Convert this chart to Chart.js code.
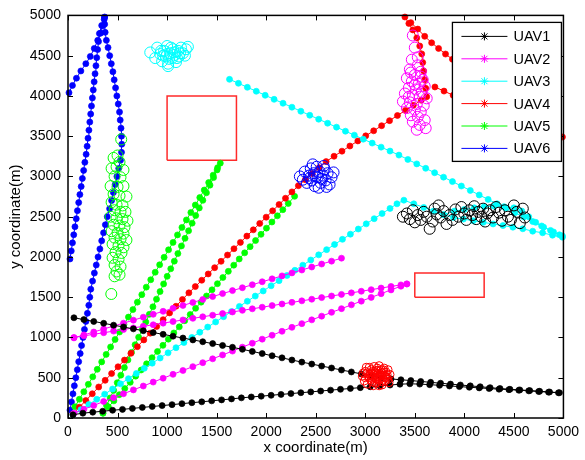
<!DOCTYPE html>
<html>
<head>
<meta charset="utf-8">
<script src="https://cdn.jsdelivr.net/npm/chart.js@4.4.0/dist/chart.umd.min.js"></script>
<style>
  html, body { margin: 0; padding: 0; background: #fff; }
</style>
</head>
<body>
<canvas id="myChart" width="585" height="460"></canvas>
<script>
// legend
var uavNames = ['UAV1', 'UAV2', 'UAV3', 'UAV4', 'UAV5', 'UAV6']
var uavColors = ['#000000', '#ff00ff', '#00ffff', '#ff0000', '#00ff00', '#0000ff']
var tickValues = [0, 500, 1000, 1500, 2000, 2500, 3000, 3500, 4000, 4500, 5000]

// UAV1 (black) paths
var k1 = [[60,1245],[160,1222],[260,1199],[360,1176],[460,1153],[560,1130],[660,1107],[760,1084],[860,1061],[960,1039],[1060,1016],[1160,993],[1260,970],[1360,947],[1460,924],[1560,901],[1660,878],[1760,853],[1860,827],[1960,800],[2060,773],[2160,747],[2260,720],[2360,694],[2460,670],[2560,645],[2660,621],[2760,596],[2860,572],[2960,548],[3060,523],[3160,498],[3260,485],[3360,475],[3460,465],[3560,454],[3660,443],[3760,432],[3860,421],[3960,410],[4060,399],[4160,388],[4260,377],[4360,366],[4460,357],[4560,349],[4660,340],[4760,332],[4860,323],[4960,314]]
var k2 = [[50,40],[150,60],[250,72],[350,84],[450,96],[550,107],[650,119],[750,131],[850,143],[950,154],[1050,166],[1150,178],[1250,190],[1350,201],[1450,213],[1550,225],[1650,237],[1750,250],[1850,261],[1950,271],[2050,282],[2150,293],[2250,303],[2350,314],[2450,324],[2550,335],[2650,346],[2750,356],[2850,367],[2950,377],[3050,388],[3150,398],[3250,409],[3350,420],[3450,425],[3550,421],[3650,414],[3750,406],[3850,398],[3950,390],[4050,382],[4150,374],[4250,366],[4350,358],[4450,352],[4550,345],[4650,337],[4750,329],[4850,321],[4950,313]]

// UAV2 (magenta) paths
var m1 = [[60,995],[160,1032],[260,1068],[360,1105],[460,1142],[560,1178],[660,1215],[760,1252],[860,1288],[960,1325],[1060,1362],[1160,1398],[1260,1435],[1360,1472],[1460,1508],[1560,1545],[1660,1582],[1760,1618],[1860,1655],[1960,1692],[2060,1728],[2160,1765],[2260,1802],[2360,1838],[2460,1875],[2560,1912],[2660,1948],[2760,1985]]
var m2 = [[60,1000],[160,1020],[260,1040],[360,1059],[460,1079],[560,1099],[660,1119],[760,1139],[860,1158],[960,1178],[1060,1198],[1160,1218],[1260,1238],[1360,1257],[1460,1277],[1560,1297],[1660,1317],[1760,1337],[1860,1356],[1960,1376],[2060,1396],[2160,1416],[2260,1436],[2360,1455],[2460,1475],[2560,1495],[2660,1515],[2760,1535],[2860,1554],[2960,1574],[3060,1594],[3160,1614],[3260,1634],[3360,1653],[3420,1665]]
var m3 = [[60,60],[160,108],[260,156],[360,205],[460,253],[560,301],[660,349],[760,397],[860,446],[960,494],[1060,542],[1160,590],[1260,638],[1360,687],[1460,735],[1560,783],[1660,831],[1760,880],[1860,929],[1960,979],[2060,1028],[2160,1077],[2260,1126],[2360,1172],[2460,1219],[2560,1265],[2660,1312],[2760,1358],[2860,1405],[2960,1451],[3060,1498],[3160,1544],[3260,1591],[3360,1637],[3420,1665]]

// UAV3 (cyan) paths
var c1 = [[50,40],[130,104],[210,168],[290,232],[370,296],[450,360],[530,424],[610,489],[690,553],[770,617],[850,681],[930,745],[1010,809],[1090,873],[1170,937],[1250,1001],[1330,1065],[1410,1129],[1490,1193],[1570,1258],[1650,1322],[1730,1386],[1810,1450],[1890,1514],[1970,1578],[2050,1642],[2130,1706],[2210,1770],[2290,1834],[2370,1898],[2450,1962],[2530,2026],[2610,2091],[2690,2155],[2770,2219],[2850,2283],[2930,2347],[3010,2411],[3090,2475],[3170,2539],[3250,2603],[3320,2660],[3390,2705],[3490,2660],[3590,2615],[3690,2570],[3790,2525],[3890,2490],[3990,2470],[4090,2450],[4190,2430],[4290,2410],[4390,2390],[4490,2370],[4590,2350],[4690,2320],[4790,2300],[4890,2270],[4990,2245]]
var c2 = [[1630,4206],[1720,4157],[1810,4107],[1900,4058],[1990,4008],[2080,3958],[2170,3909],[2260,3860],[2350,3810],[2440,3760],[2530,3711],[2620,3661],[2710,3612],[2800,3562],[2890,3513],[2980,3463],[3070,3414],[3160,3364],[3250,3315],[3340,3265],[3430,3211],[3520,3156],[3610,3101],[3700,3046],[3790,2991],[3880,2936],[3970,2881],[4060,2826],[4150,2770],[4240,2715],[4330,2660],[4420,2605],[4510,2550],[4600,2495],[4690,2440],[4780,2385],[4870,2330],[4960,2275]]
var c3 = [[3790,2525],[3900,2570],[4000,2590],[4100,2610],[4200,2625],[4300,2630],[4400,2625],[4500,2610],[4580,2570],[4650,2500],[4720,2430],[4800,2370],[4900,2310],[4990,2260]]

// UAV4 (red) paths
var r1 = [[50,50],[115,134],[180,217],[245,301],[310,385],[375,468],[440,552],[505,636],[570,719],[635,803],[700,886],[765,970],[830,1054],[895,1137],[960,1221],[1025,1305],[1090,1388],[1155,1472],[1220,1554],[1285,1632],[1350,1711],[1415,1789],[1480,1867],[1545,1946],[1610,2024],[1675,2102],[1740,2181],[1805,2259],[1870,2337],[1935,2416],[2000,2494],[2065,2573],[2130,2651],[2195,2729],[2260,2808],[2325,2885],[2395,2960],[2465,3035],[2535,3109],[2605,3184],[2685,3251],[2765,3314],[2845,3378],[2925,3441],[3005,3504],[3085,3567],[3165,3630],[3245,3693],[3325,3757],[3405,3820],[3485,3883],[3565,3947],[3620,3990],[3610,4095],[3600,4200],[3590,4310],[3580,4415],[3570,4522],[3550,4620],[3520,4720],[3480,4820],[3440,4900],[3400,4980]]
var r2 = [[3460,4910],[3530,4830],[3600,4740],[3670,4660],[3740,4590],[3810,4520],[3880,4455],[3960,4385],[4040,4315],[4120,4245],[4200,4175],[4280,4110],[4360,4040],[4440,3970],[4520,3900],[4600,3830],[4680,3760],[4760,3690],[4840,3620],[4920,3550],[4990,3490]]
var r3 = [[3703,4111],[3795,4060],[3887,4008],[3980,3960],[4070,3915],[4160,3870],[4250,3825],[4340,3780],[4430,3735],[4520,3690],[4610,3645],[4700,3600]]

// UAV5 (green) paths
var g1 = [[70,140],[115,233],[160,326],[205,418],[250,511],[295,604],[340,697],[385,790],[430,882],[475,975],[520,1068],[565,1161],[610,1253],[655,1346],[700,1439],[745,1532],[790,1625],[835,1717],[880,1810],[925,1903],[970,1996],[1015,2089],[1060,2181],[1105,2274],[1150,2367],[1195,2460],[1240,2552],[1285,2645],[1330,2738],[1375,2831],[1420,2924],[1465,3016],[1510,3109],[1537,3165]]
var g2 = [[353,60],[389,154],[425,249],[461,343],[497,438],[533,532],[569,626],[605,721],[641,815],[677,910],[713,1004],[749,1098],[785,1193],[821,1287],[857,1381],[893,1476],[929,1570],[965,1665],[1001,1759],[1037,1853],[1073,1948],[1109,2042],[1145,2137],[1181,2231],[1217,2325],[1253,2420],[1289,2514],[1325,2609],[1361,2703],[1397,2797],[1433,2892],[1469,2986],[1505,3081]]
var g3 = [[353,60],[408,137],[463,213],[518,290],[573,366],[628,443],[683,520],[738,596],[793,673],[848,749],[903,826],[958,902],[1013,979],[1068,1056],[1123,1132],[1178,1209],[1233,1285],[1288,1362],[1343,1439],[1398,1515],[1453,1592],[1508,1668],[1563,1745],[1618,1821],[1673,1898],[1728,1975],[1783,2051],[1838,2128],[1893,2204],[1948,2281],[2003,2358],[2058,2434],[2113,2511],[2168,2587],[2223,2664],[2287,2753]]

// UAV6 (blue) paths
var b1 = [[10,4040],[45,4130],[85,4220],[130,4310],[180,4400],[225,4490],[265,4590],[300,4690],[330,4780],[350,4870],[365,4950]]
var b2 = [[20,1975],[33,2075],[45,2175],[58,2275],[70,2375],[83,2475],[95,2575],[108,2675],[120,2775],[133,2875],[145,2975],[158,3075],[170,3175],[183,3275],[193,3375],[202,3475],[211,3575],[220,3675],[229,3775],[237,3875],[246,3975],[255,4075],[264,4175],[273,4275],[282,4375],[290,4475],[299,4575],[308,4675],[317,4775],[340,4875],[368,4975]]
var b3 = [[20,98],[35,200],[50,300],[64,400],[79,500],[94,600],[108,700],[123,800],[137,900],[152,1000],[166,1100],[181,1200],[196,1300],[210,1400],[220,1500],[230,1600],[248,1700],[266,1800],[285,1900],[303,2000],[322,2100],[340,2200],[359,2300],[377,2400],[396,2500],[420,2600],[440,2700],[458,2800],[476,2900],[494,3000],[512,3100],[530,3200],[540,3300],[543,3400],[540,3500],[535,3600],[527,3700],[520,3800],[507,3900],[493,4000],[480,4100],[466,4200],[453,4300],[437,4400],[421,4500],[404,4600],[387,4690],[375,4790],[370,4890],[370,4980]]

// circle clusters
var ring1 = [[3380,2500],[3420,2540],[3450,2470],[3480,2580],[3500,2430],[3530,2520],[3560,2460],[3590,2560],[3620,2500],[3650,2350],[3680,2440],[3700,2600],[3720,2530],[3740,2640],[3760,2490],[3790,2570],[3820,2410],[3850,2520],[3880,2460],[3910,2590],[3940,2500],[3970,2620],[4000,2540],[4020,2460],[4050,2580],[4080,2520],[4100,2630],[4120,2470],[4140,2560],[4170,2500],[4190,2600],[4210,2440],[4230,2540],[4260,2580],[4290,2490],[4320,2620],[4350,2550],[4380,2450],[4410,2580],[4440,2500],[4470,2460],[4500,2640],[4530,2560],[4560,2420],[4590,2600],[4610,2490]]
var ring2 = [[3480,4750],[3500,4600],[3470,4450],[3530,4380],[3450,4330],[3560,4300],[3500,4260],[3420,4220],[3580,4200],[3470,4180],[3540,4150],[3600,4120],[3440,4100],[3510,4080],[3570,4050],[3400,4030],[3480,4010],[3550,3990],[3620,3970],[3380,3930],[3450,3920],[3520,3900],[3590,3880],[3420,3850],[3500,3830],[3560,3800],[3460,3760],[3530,3740],[3600,3700],[3480,3680],[3550,3640],[3610,3600],[3520,3580],[3440,3990],[3500,4140],[3560,4240],[3460,4290],[3530,4480]]
var ring3 = [[830,4540],[880,4470],[900,4600],[930,4520],[950,4430],[970,4560],[990,4490],[1000,4620],[1010,4400],[1030,4530],[1050,4470],[1060,4580],[1080,4510],[1090,4420],[1110,4560],[1120,4490],[1140,4600],[1160,4530],[1190,4580],[1210,4610],[960,4500],[1020,4460],[1070,4540],[940,4560],[1000,4520],[1040,4600],[1100,4470],[1130,4530],[1180,4500],[1010,4370]]
var ring4 = [[2970,520],[2990,460],[3000,580],[3020,420],[3030,520],[3040,630],[3060,470],[3070,560],[3080,400],[3090,640],[3100,500],[3110,590],[3120,440],[3130,540],[3140,650],[3150,480],[3160,600],[3170,410],[3180,530],[3190,620],[3200,460],[3210,570],[3220,500],[3230,600],[3240,440],[3250,540],[3000,500],[3050,540],[3100,430],[3150,550],[3200,520],[3060,600],[3120,620],[3180,470],[3010,630],[3230,480],[2980,560],[3140,400],[3080,510],[3170,560],
  [3040,500],[3070,450],[3090,540],[3110,480],[3130,590],[3150,520],[3170,450],[3190,570],[3210,510],[3060,520],[3100,560],[3140,470],[3180,600],[3020,560],[3220,540],[3120,510],[3160,530],[3080,580]]
var ring5 = [[537,3460],[500,3260],[460,3230],[520,3180],[440,3100],[490,3120],[560,3080],[470,3000],[530,2990],[430,2880],[500,2870],[560,2880],[460,2780],[520,2760],[590,2750],[440,2680],[490,2650],[550,2640],[470,2580],[530,2560],[580,2560],[430,2500],[490,2480],[550,2470],[600,2450],[460,2400],[520,2390],[570,2370],[440,2320],[500,2300],[560,2290],[470,2240],[530,2220],[590,2210],[450,2160],[510,2140],[560,2120],[480,2060],[540,2050],[450,1990],[510,1970],[470,1900],[530,1880],[490,1820],[470,1760],[520,1780],[437,1540]]
var ring6 = [[2340,3000],[2370,2960],[2390,3060],[2410,2920],[2430,3010],[2450,3100],[2460,2950],[2480,3040],[2490,2880],[2510,3120],[2520,2990],[2540,3060],[2550,2920],[2570,3010],[2590,3090],[2600,2950],[2620,3040],[2640,2900],[2660,2990],[2680,3050],[2500,3000],[2440,2980],[2560,2970],[2580,3130],[2470,3150],[2610,2870],[2530,2860]]

// obstacles
var obstacleA = [[1000,3200],[1700,3200],[1700,4000],[1000,4000],[1000,3200]]
var obstacleB = [[3500,1500],[4200,1500],[4200,1800],[3500,1800],[3500,1500]]

var FONT = '"Liberation Sans", Arial, Helvetica, sans-serif'

var pts = function (a) { return a.map(function (p) { return { x: p[0], y: p[1] } }) }
function path(a, i) {
  return { data: pts(a), showLine: true, borderColor: uavColors[i], backgroundColor: uavColors[i],
    borderWidth: 1, pointRadius: 3, pointBorderWidth: 0.7, pointHoverRadius: 3, clip: false }
}
function rings(a, i, r) {
  return { data: pts(a), showLine: false, borderColor: uavColors[i], backgroundColor: 'rgba(0,0,0,0)',
    pointRadius: r || 5.5, pointBorderWidth: 1, pointHoverRadius: r || 5.5, clip: false }
}
function box(a) {
  return { data: pts(a), showLine: true, borderColor: '#ff2a2a', borderWidth: 1.5, pointRadius: 0, clip: false }
}

var datasets = [
  rings(ring1, 0), rings(ring2, 1), rings(ring3, 2), rings(ring4, 3, 4), rings(ring5, 4), rings(ring6, 5),
  path(k1, 0), path(k2, 0),
  path(m1, 1), path(m2, 1), path(m3, 1),
  path(c1, 2), path(c2, 2), path(c3, 2),
  path(r1, 3), path(r2, 3), path(r3, 3),
  path(g1, 4), path(g2, 4), path(g3, 4),
  path(b1, 5), path(b2, 5), path(b3, 5),
  box(obstacleA), box(obstacleB)
]

// axes box, inward ticks and the legend drawn over the plot
var frame = {
  id: 'frame',
  afterDraw: function (chart) {
    var ctx = chart.ctx, a = chart.chartArea, sx = chart.scales.x, sy = chart.scales.y
    ctx.save()
    ctx.strokeStyle = '#000'
    ctx.lineWidth = 1
    ctx.beginPath()
    tickValues.forEach(function (v) {
      var px = Math.round(sx.getPixelForValue(v)) + 0.5
      ctx.moveTo(px, a.bottom); ctx.lineTo(px, a.bottom - 5)
      ctx.moveTo(px, a.top); ctx.lineTo(px, a.top + 5)
      var py = Math.round(sy.getPixelForValue(v)) + 0.5
      ctx.moveTo(a.left, py); ctx.lineTo(a.left + 5, py)
      ctx.moveTo(a.right, py); ctx.lineTo(a.right - 5, py)
    })
    ctx.stroke()
    ctx.lineWidth = 1.5
    ctx.strokeRect(a.left, a.top, a.right - a.left, a.bottom - a.top)

    var lx = a.right - 111, ly = a.top + 7, lw = 109, lh = 139
    ctx.fillStyle = '#fff'
    ctx.fillRect(lx, ly, lw, lh)
    ctx.lineWidth = 1.3
    ctx.strokeRect(lx, ly, lw, lh)
    ctx.font = '14.5px ' + FONT
    ctx.textBaseline = 'middle'
    uavNames.forEach(function (name, i) {
      var y = ly + 14 + i * 22.4
      ctx.strokeStyle = uavColors[i]
      ctx.lineWidth = 1
      ctx.beginPath()
      ctx.moveTo(lx + 9, y); ctx.lineTo(lx + 55, y)
      var cx = lx + 32, r = 4
      ctx.moveTo(cx - r, y); ctx.lineTo(cx + r, y)
      ctx.moveTo(cx, y - r); ctx.lineTo(cx, y + r)
      ctx.moveTo(cx - 3, y - 3); ctx.lineTo(cx + 3, y + 3)
      ctx.moveTo(cx - 3, y + 3); ctx.lineTo(cx + 3, y - 3)
      ctx.stroke()
      ctx.fillStyle = '#000'
      ctx.fillText(name, lx + 61, y + 1)
    })
    ctx.restore()
  }
}

function axis(label, isX) {
  return {
    type: 'linear', min: 0, max: 5000,
    afterBuildTicks: function (s) { s.ticks = tickValues.map(function (v) { return { value: v } }) },
    afterFit: function (s) { if (isX) s.height = 42; else s.width = 68 },
    grid: { display: false, drawTicks: false },
    border: { display: false },
    ticks: { autoSkip: false, maxRotation: 0, padding: isX ? 6 : 7, color: '#000',
      font: { family: FONT, size: 14 }, callback: function (v) { return String(v) } },
    title: { display: true, text: label, color: '#000', font: { family: FONT, size: 15 },
      padding: isX ? { top: 0, bottom: 3 } : { top: 7, bottom: 0 } }
  }
}

var ctx = document.getElementById('myChart')
var myChart = new Chart(ctx, {
  type: 'scatter',
  data: { datasets: datasets },
  options: {
    responsive: false,
    animation: false,
    events: [],
    layout: { padding: { left: 0, right: 17, top: 13, bottom: 0 } },
    plugins: { legend: { display: false }, tooltip: { enabled: false } },
    scales: { x: axis('x coordinate(m)', true), y: axis('y coordinate(m)', false) }
  },
  plugins: [frame]
})
</script>
</body>
</html>
